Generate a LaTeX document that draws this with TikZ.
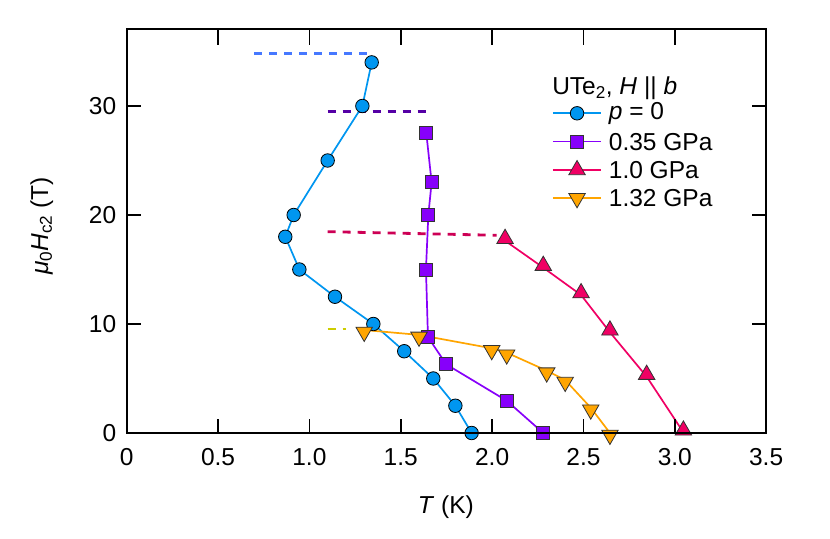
\documentclass[tikz,border=0pt]{standalone}
\usepackage{fontspec}
\setmainfont{Liberation Sans}
\usetikzlibrary{shapes.geometric}
\definecolor{cblue}{RGB}{0,150,240}
\definecolor{cpurp}{RGB}{135,0,250}
\definecolor{cred}{RGB}{240,0,100}
\definecolor{corg}{RGB}{255,165,0}
\definecolor{dblue}{RGB}{70,120,255}
\definecolor{dpurp}{RGB}{85,0,165}
\definecolor{dred}{RGB}{205,0,85}
\definecolor{dyel}{RGB}{205,205,0}
\tikzset{
 mcirc/.style={circle,draw=black,line width=0.8pt,fill=cblue,inner sep=0pt,minimum size=13.5pt},
 msq/.style={rectangle,draw=black!80,line width=0.8pt,fill=cpurp,inner sep=0pt,minimum size=13pt},
 mup/.style={regular polygon,regular polygon sides=3,draw=black!80,line width=0.8pt,fill=cred,inner sep=0pt,minimum size=19pt},
 mdn/.style={regular polygon,regular polygon sides=3,shape border rotate=180,draw=black!80,line width=0.8pt,fill=corg,inner sep=0pt,minimum size=19pt},
 dline/.style={line width=2.8pt,line cap=butt,dash pattern=on 8pt off 7pt},
 tlab/.style={font=\fontsize{24.5}{28}\selectfont}
}
\begin{document}
\begin{tikzpicture}[x=182.7pt,y=10.9pt]
\useasboundingbox (-0.6935,-9.725) rectangle (3.8495,39.725);
\fill[white] (-0.6935,-9.725) rectangle (3.8495,39.725);
% dashed lines
\draw[dline,dblue] (0.698,34.85) -- (1.32,34.85);
\draw[dline,dpurp] (1.10,29.5) -- (1.636,29.5);
\draw[dline,dred] (1.10,18.47) -- (2.025,18.14);
\draw[dline,dyel,dash pattern=on 8pt off 7pt on 3pt off 20pt] (1.10,9.54) -- (1.23,9.54);
% data lines
\draw[cblue,line width=1.7pt] (1.341,34.0)--(1.290,30.0)--(1.100,25.0)--(0.914,20.0)--(0.868,18.0)--(0.945,15.0)--(1.140,12.5)--(1.350,10.0)--(1.519,7.5)--(1.678,5.0)--(1.799,2.5)--(1.888,0);
\draw[cpurp,line width=1.7pt] (1.640,27.5)--(1.669,23.0)--(1.651,20.0)--(1.638,15.0)--(1.649,8.8)--(1.749,6.3)--(2.08,2.96)--(2.28,0);
\draw[cred,line width=1.7pt] (2.071,17.64)--(2.28,15.17)--(2.487,12.66)--(2.645,9.24)--(2.846,5.17)--(3.047,0.06);
\draw[corg,line width=1.7pt] (1.30,9.45)--(1.60,9.0)--(1.998,7.77)--(2.08,7.37)--(2.299,5.72)--(2.40,4.86)--(2.54,2.32)--(2.645,0);
% markers
\foreach \x/\y [count=\i] in {1.341/34.0,1.290/30.0,1.100/25.0,0.914/20.0,0.868/18.0,0.945/15.0,1.140/12.5,1.350/10.0,1.519/7.5,1.678/5.0,1.799/2.5,1.888/0}
  \node[mcirc] (b\i) at (\x,\y) {};
\foreach \x/\y [count=\i] in {1.640/27.5,1.669/23.0,1.651/20.0,1.638/15.0,1.649/8.8,1.749/6.3,2.08/2.96,2.28/0}
  \node[msq] (s\i) at (\x,\y) {};
\foreach \x/\y [count=\i] in {2.071/17.64,2.28/15.17,2.487/12.66,2.645/9.24,2.846/5.17,3.047/0.06}
  \node[mup,yshift=2pt] (u\i) at (\x,\y) {};
\foreach \x/\y [count=\i] in {1.30/9.45,1.60/9.0,1.998/7.77,2.08/7.37,2.299/5.72,2.40/4.86,2.54/2.32,2.645/0}
  \node[mdn,yshift=-2pt] (d\i) at (\x,\y) {};
% frame
\draw[line width=1.8pt] (0,0) rectangle (3.5,37.06);
\foreach \t/\l in {0/0,0.5/0.5,1/1.0,1.5/1.5,2/2.0,2.5/2.5,3/3.0,3.5/3.5}{
  \draw[line width=1.6pt] (\t,0) -- ++(0,14pt) (\t,37.06) -- ++(0,-16pt);
  \node[tlab,anchor=north] (xl\t) at ([yshift=-12pt]\t,0) {\l};
}
\foreach \h in {0,10,20,30}{
  \draw[line width=1.6pt] (0,\h) -- ++(14pt,0) (3.5,\h) -- ++(-14pt,0);
  \node[tlab,anchor=east] (yl\h) at ([xshift=-7pt]0,\h) {\h};
}
\node[tlab] (xlab) at (1.747,-6.8) {\textit{T} (K)};
\node[tlab,rotate=90] (ylab) at (-0.465,19.0) {\textit{μ}\textsubscript{0}\textit{H}\textsubscript{c2} (T)};
% legend
\node[tlab,anchor=west] (lt) at (2.31,31.6) {UTe\textsubscript{2}, \textit{H} || \textit{b}};
\foreach \r/\st/\c/\txt [count=\i] in {0/mcirc/cblue/{\textit{p} = 0},1/msq/cpurp/{0.35 GPa},2/mup/cred/{1.0 GPa},3/mdn/corg/{1.32 GPa}}{
  \coordinate (la\i) at (2.333,29.33-2.6*\r);
  \coordinate (lb\i) at (2.596,29.33-2.6*\r);
  \draw[\c,line width=1.7pt] (la\i) -- (lb\i);
  \node[\st] (lm\i) at (2.465,29.33-2.6*\r) {};
  \node[tlab,anchor=west] (ltx\i) at (2.62,29.33-2.6*\r) {\txt};
}
\end{tikzpicture}
\end{document}
